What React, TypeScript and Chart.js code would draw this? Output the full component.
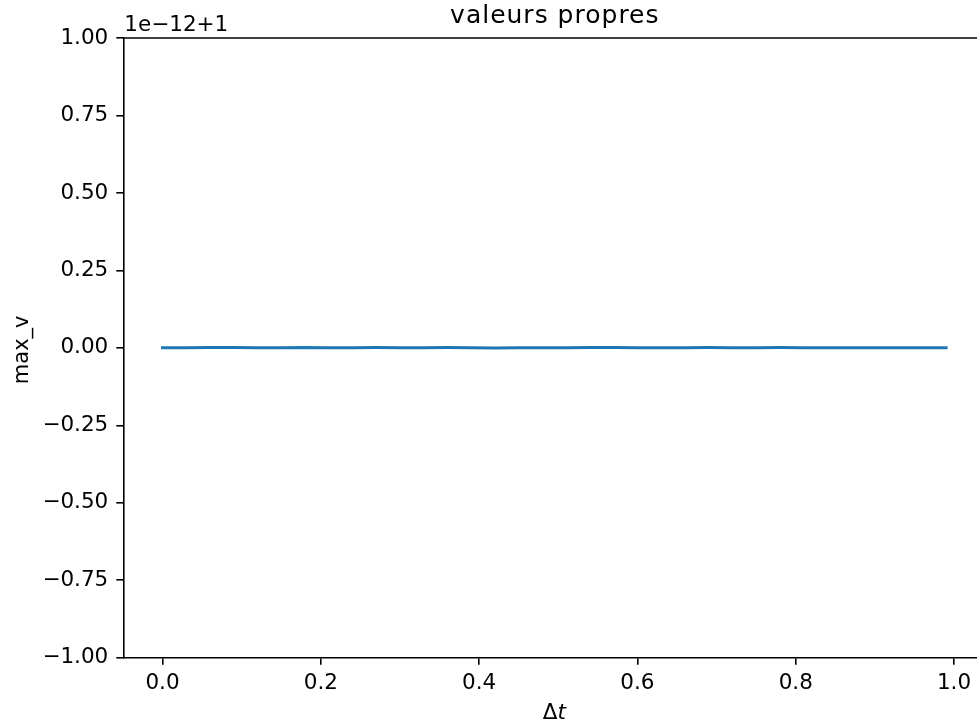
import React, { useEffect, useRef } from 'react';
import { Chart, registerables } from 'chart.js';

Chart.register(...registerables);

const TITLE = 'valeurs propres';
const OFFSET_TEXT = '1e\u221212+1';
const X_LABEL_MAIN = '\u0394';
const X_LABEL_ITALIC = 't';
const Y_LABEL = 'max_v';

const xTicks = [0, 0.2, 0.4, 0.6, 0.8, 1.0];
const yTicks = [-1, -0.75, -0.5, -0.25, 0, 0.25, 0.5, 0.75, 1];

const dtValues = [
  0.0, 0.03, 0.06, 0.09, 0.12, 0.15, 0.18, 0.21, 0.24, 0.27, 0.3, 0.33, 0.36, 0.39, 0.42, 0.45, 0.48,
  0.51, 0.54, 0.57, 0.6, 0.63, 0.66, 0.69, 0.72, 0.75, 0.78, 0.81, 0.84, 0.87, 0.9, 0.93, 0.96, 0.99,
];
const maxV = [
  0.0, 0.0, 0.001, 0.001, 0.0, 0.0, 0.001, 0.0, 0.0005, 0.001, 0.0005, 0.0, 0.001, 0.0005, -0.0005,
  0.0, 0.0, 0.0005, 0.001, 0.001, 0.0005, 0.0, 0.0005, 0.001, 0.0, 0.0005, 0.001, 0.0005, 0.0, 0.0005,
  0.0, 0.0, 0.0005, 0.0,
];

const X_MIN = -0.0495;
const X_MAX = 1.0395;
const Y_MIN = -1;
const Y_MAX = 1;

const FONT = 'DejaVu Sans';

function fmtY(v: number): string {
  const s = Math.abs(v).toFixed(2);
  return v < 0 ? '\u2212' + s : s;
}

const textPlugin = {
  id: 'mplText',
  afterDraw(chart: any) {
    const ctx = chart.ctx as CanvasRenderingContext2D;
    const ca = chart.chartArea;
    ctx.save();
    // top spine
    ctx.strokeStyle = '#000';
    ctx.lineWidth = 1.6;
    ctx.beginPath();
    ctx.moveTo(ca.left - 0.8, ca.top);
    ctx.lineTo(ca.right + 0.8, ca.top);
    ctx.stroke();

    ctx.fillStyle = '#000';
    const cx = (ca.left + ca.right) / 2;
    // title
    ctx.font = `25px "${FONT}"`;
    (ctx as any).letterSpacing = '1px';
    ctx.textAlign = 'center';
    ctx.textBaseline = 'alphabetic';
    ctx.fillText(TITLE, cx + 0.5, 22.5);
    (ctx as any).letterSpacing = '0px';

    // offset text
    ctx.font = `21.5px "${FONT}"`;
    ctx.textAlign = 'left';
    ctx.fillText(OFFSET_TEXT, ca.left + 1, 30.5);

    // x label
    ctx.font = `21.5px "${FONT}"`;
    const w1 = ctx.measureText(X_LABEL_MAIN).width;
    ctx.font = `italic 21.5px "${FONT}"`;
    const w2 = ctx.measureText(X_LABEL_ITALIC).width;
    const startX = cx - (w1 + w2) / 2;
    ctx.font = `21.5px "${FONT}"`;
    ctx.textAlign = 'left';
    ctx.fillText(X_LABEL_MAIN, startX, 718.5);
    ctx.font = `italic 21.5px "${FONT}"`;
    ctx.fillText(X_LABEL_ITALIC, startX + w1, 718.5);

    // y label
    ctx.font = `21px "${FONT}"`;
    ctx.translate(28, (ca.top + ca.bottom) / 2 + 2);
    ctx.rotate(-Math.PI / 2);
    ctx.textAlign = 'center';
    ctx.fillText(Y_LABEL, 0, 0);
    ctx.restore();
  },
};

export default function App() {
  const canvasRef = useRef<HTMLCanvasElement | null>(null);

  useEffect(() => {
    const canvas = canvasRef.current;
    if (!canvas) return;
    const chart = new Chart(canvas, {
      type: 'line',
      data: {
        datasets: [
          {
            data: dtValues.map((x, i) => ({ x, y: maxV[i] })),
            borderColor: '#1f77b4',
            borderWidth: 3,
            borderCapStyle: 'square',
            pointRadius: 0,
            tension: 0,
            fill: false,
          },
        ],
      },
      options: {
        responsive: false,
        animation: false,
        devicePixelRatio: 1,
        layout: { padding: { left: 0, right: 14.7, top: 38, bottom: 0 } },
        plugins: {
          legend: { display: false },
          tooltip: { enabled: false },
          title: { display: false },
        },
        scales: {
          x: {
            type: 'linear',
            min: X_MIN,
            max: X_MAX,
            afterFit: (s: any) => {
              s.height = 68.3;
            },
            afterBuildTicks: (s: any) => {
              s.ticks = xTicks.map((v) => ({ value: v }));
            },
            ticks: {
              callback: (v: any) => Number(v).toFixed(1),
              font: { family: FONT, size: 21.5 },
              color: '#000',
              padding: 6,
              maxRotation: 0,
              autoSkip: false,
            },
            grid: { drawOnChartArea: false, drawTicks: true, tickLength: 7, color: '#000', lineWidth: 1.6 },
            border: { display: true, color: '#000', width: 1.6 },
          },
          y: {
            type: 'linear',
            min: Y_MIN,
            max: Y_MAX,
            afterFit: (s: any) => {
              s.width = 123.3;
            },
            afterBuildTicks: (s: any) => {
              s.ticks = yTicks.map((v) => ({ value: v }));
            },
            ticks: {
              callback: (v: any) => fmtY(Number(v)),
              font: { family: FONT, size: 21.5 },
              color: '#000',
              padding: 8,
              autoSkip: false,
            },
            grid: { drawOnChartArea: false, drawTicks: true, tickLength: 7, color: '#000', lineWidth: 1.6 },
            border: { display: true, color: '#000', width: 1.6 },
          },
        },
      },
      plugins: [textPlugin],
    } as any);
    return () => chart.destroy();
  }, []);

  return (
    <div
      style={{
        position: 'fixed',
        left: 0,
        top: 0,
        width: 977,
        height: 726,
        overflow: 'hidden',
        background: '#fff',
      }}
    >
      <canvas ref={canvasRef} width={1000} height={726} style={{ display: 'block', width: 1000, height: 726 }} />
    </div>
  );
}
